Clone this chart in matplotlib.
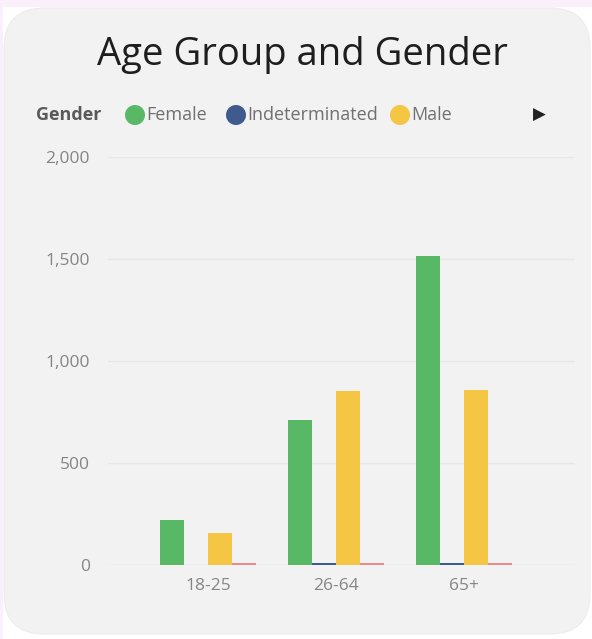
import matplotlib
matplotlib.use("Agg")
import matplotlib.pyplot as plt
from matplotlib.patches import FancyBboxPatch, Ellipse, Rectangle
import numpy as np

categories = ["18-25", "26-64", "65+"]
series_names = ["Female", "Indeterminated", "Male", "Other"]
female = [220, 711, 1515]
indeterminated = [0, 8, 8]
male = [155, 853, 858]
other = [12, 12, 12]
series_values = [female, indeterminated, male, other]
colors = ["#58B866", "#3F5A8C", "#F5C544", "#EE8A8A"]
yticks = [0, 500, 1000, 1500, 2000]
ytick_labels = ["0", "500", "1,000", "1,500", "2,000"]

W, H = 592, 639
fig = plt.figure(figsize=(W / 100, H / 100), dpi=100)
fig.patch.set_facecolor("#FFFFFF")

# pink strips of the page at top and left
fig.patches.append(Rectangle((0, 1 - 7 / H), 1, 7 / H, transform=fig.transFigure,
                             facecolor="#FCEFFC", edgecolor="none", zorder=-20))
fig.patches.append(Rectangle((0, 0), 3 / W, 1, transform=fig.transFigure,
                             facecolor="#FCEFFC", edgecolor="none", zorder=-20))

card = FancyBboxPatch((4 / W, 1 - 634 / H), 586 / W, 626 / H,
                      boxstyle="round,pad=0,rounding_size=0.068",
                      transform=fig.transFigure, facecolor="#F2F2F2",
                      edgecolor="#ECECEC", linewidth=0.8, mutation_aspect=W / H,
                      zorder=-10)
fig.patches.append(card)

ax = fig.add_axes([108 / W, 1 - 565 / H, 467 / W, (565 - 157) / H])
ax.set_facecolor("none")
x = np.arange(len(categories))
bw = 0.1875
for i, (vals, c) in enumerate(zip(series_values, colors)):
    ax.bar(x + (i - 1.5) * bw, vals, width=bw, color=c, zorder=3, linewidth=0)

ax.set_xlim(-(208 - 108) / 128, -(208 - 108) / 128 + 467 / 128)
ax.set_ylim(0, 2000)
ax.set_yticks(yticks)
ax.set_yticklabels(ytick_labels)
ax.set_xticks(x)
ax.set_xticklabels(categories)
ax.grid(axis="y", color="#E7E7E7", linewidth=1, zorder=0)
for s in ax.spines.values():
    s.set_visible(False)
ax.tick_params(axis="both", length=0, colors="#858585", labelsize=12.5,
               labelfontfamily="Open Sans")
ax.tick_params(axis="y", pad=13)
ax.tick_params(axis="x", pad=9)

fig.text(302 / W, 1 - 55 / H, "Age Group and Gender", ha="center", va="center",
         fontsize=27.5, color="#1E1E1E", family="Open Sans")

ly = 1 - 115 / H
fig.text(36 / W, ly, "Gender", ha="left", va="center", fontsize=13,
         fontweight="bold", color="#5A5A5A", family="Open Sans")
for name, c, cx, tx in zip(series_names[:3], colors[:3], [135, 236, 400],
                           [146, 247, 411]):
    circ = Ellipse((cx / W, ly), 20 / W, 20 / H, transform=fig.transFigure,
                   facecolor=c, edgecolor="none")
    fig.patches.append(circ)
    fig.text(tx / W, ly, name, ha="left", va="center", fontsize=13,
             color="#707070", family="Open Sans")
fig.text(539 / W, ly, "\u25B6", ha="center", va="center", fontsize=12,
         color="#222222", family="DejaVu Sans")

fig.savefig("out.png", dpi=100, facecolor=fig.get_facecolor())
